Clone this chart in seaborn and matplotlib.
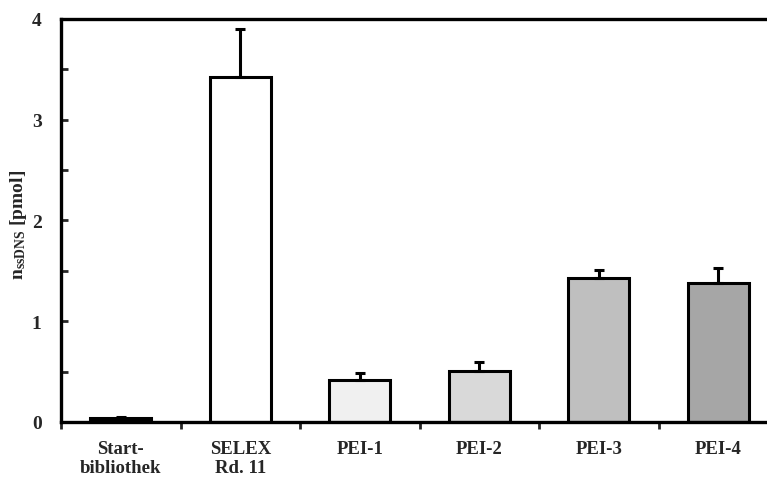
#!/usr/bin/env python3
# -*- coding: utf-8 -*-
'''
Bar chart: ssDNS amount per sample with upper error bars.
'''
import numpy as np
import seaborn as sns
import matplotlib
matplotlib.use("Agg")
import matplotlib.pyplot as plt

# data
categories = ["Start-\nbibliothek", "SELEX\nRd. 11", "PEI-1", "PEI-2", "PEI-3", "PEI-4"]
values = [0.04, 3.42, 0.42, 0.51, 1.43, 1.38]
errors = [0.01, 0.48, 0.07, 0.09, 0.08, 0.15]
colors = ["#000000", "#ffffff", "#f0f0f0", "#d9d9d9", "#bfbfbf", "#a6a6a6"]
y_ticks = [0, 1, 2, 3, 4]

sns.set_style("ticks")
plt.rcParams["font.family"] = ["Liberation Serif", "DejaVu Serif"]
plt.rcParams["font.weight"] = "bold"
plt.rcParams["mathtext.fontset"] = "custom"
plt.rcParams["mathtext.rm"] = "Liberation Serif:bold"
plt.rcParams["mathtext.it"] = "Liberation Serif:bold"

fig = plt.figure(figsize=(7.67, 4.81), dpi=100)
# axes runs past the right edge of the figure like in the reference
ax = fig.add_axes([0.0795, 0.1206, 0.935, 0.838])

sns.barplot(x=categories, y=values, hue=categories, palette=colors,
            legend=False, width=0.51, edgecolor="black", linewidth=2.2,
            saturation=1, ax=ax)

ax.errorbar(np.arange(len(values)), values,
            yerr=[np.zeros(len(errors)), errors],
            fmt="none", ecolor="black", elinewidth=2.2, capsize=3.5, capthick=2.2)

ax.set_xlim(-0.5, 5.5)
ax.set_ylim(0, 4)

for s in ax.spines.values():
    s.set_linewidth(2.4)
    s.set_color("black")

ax.set_yticks(y_ticks)
ax.set_yticks(np.arange(0.5, 4, 1), minor=True)
ax.tick_params(axis="y", which="both", direction="in", length=5, width=2,
               pad=14, labelsize=14)

ax.set_xticks(range(len(categories)))
ax.set_xticklabels(categories, fontsize=13.5, fontweight="bold", linespacing=1.15)
ax.set_xticks(np.arange(-0.5, 6, 1), minor=True)
ax.tick_params(axis="x", which="major", length=0, pad=13)
ax.tick_params(axis="x", which="minor", direction="out", length=5, width=2)

ax.set_ylabel(r"n$_{\mathrm{ssDNS}}$ [pmol]", fontsize=14, fontweight="bold")
ax.yaxis.set_label_coords(-0.045, 0.49)
ax.set_xlabel("")

fig.savefig("out.png", dpi=100)
